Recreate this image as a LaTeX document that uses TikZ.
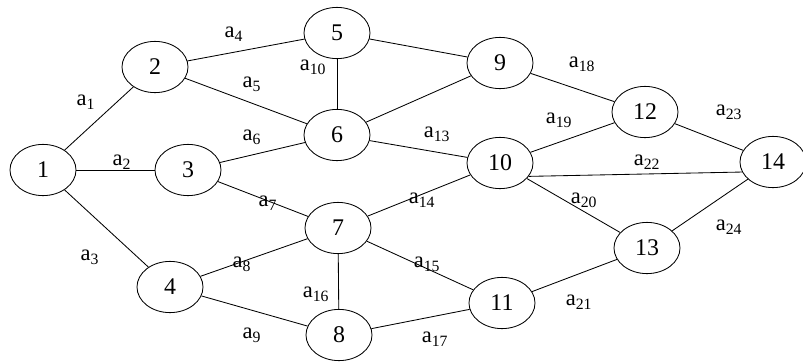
\documentclass[tikz,border=0pt]{standalone}
\usepackage{fontspec}
\setmainfont{Liberation Serif}
\usetikzlibrary{shapes.geometric, positioning}

\begin{document}
\begin{tikzpicture}[x=0.025cm, y=-0.025cm,
    vert/.style={ellipse, draw, line width=0.6pt, minimum width=1.65cm, minimum height=1.28cm, inner sep=0pt, font=\fontsize{17}{19}\selectfont},
    lbl/.style={inner sep=1pt, font=\fontsize{16}{18}\selectfont},
    link/.style={draw, line width=0.6pt}]

    \useasboundingbox (0,0) rectangle (803,363);

    \node[vert] (n1) at (43,170) {1};
    \node[vert] (n2) at (155,67) {2};
    \node[vert] (n3) at (188,170) {3};
    \node[vert] (n4) at (170,287) {4};
    \node[vert] (n5) at (337,33) {5};
    \node[vert] (n6) at (337,135) {6};
    \node[vert] (n7) at (338,228) {7};
    \node[vert] (n8) at (339,335) {8};
    \node[vert] (n9) at (500,63) {9};
    \node[vert] (n10) at (500,163) {10};
    \node[vert] (n11) at (502,303) {11};
    \node[vert] (n12) at (645,112) {12};
    \node[vert] (n13) at (647,248) {13};
    \node[vert] (n14) at (773,162) {14};

    \draw[link] (n1) -- (n2);
    \draw[link] (n1) -- (n3);
    \draw[link] (n1) -- (n4);
    \draw[link] (n2) -- (n5);
    \draw[link] (n2) -- (n6);
    \draw[link] (n3) -- (n6);
    \draw[link] (n3) -- (n7);
    \draw[link] (n4) -- (n7);
    \draw[link] (n4) -- (n8);
    \draw[link] (n5) -- (n6);
    \draw[link] (n5) -- (n9);
    \draw[link] (n6) -- (n9);
    \draw[link] (n6) -- (n10);
    \draw[link] (n7) -- (n10);
    \draw[link] (n7) -- (n11);
    \draw[link] (n7) -- (n8);
    \draw[link] (n8) -- (n11);
    \draw[link] (n9) -- (n12);
    \draw[link] (n10) -- (n12);
    \draw[link] (n10) -- (n13);
    \draw[link] (n11) -- (n13);
    \draw[link] (n10.-25) -- (n14.198);
    \draw[link] (n12) -- (n14);
    \draw[link] (n13) -- (n14);

    % arc labels
    \node[lbl] (a1) at (86,102) {a\textsubscript{1}};
    \node[lbl] (a2) at (122,162) {a\textsubscript{2}};
    \node[lbl] (a3) at (90,257) {a\textsubscript{3}};
    \node[lbl] (a4) at (234,34) {a\textsubscript{4}};
    \node[lbl] (a5) at (252,84) {a\textsubscript{5}};
    \node[lbl] (a6) at (252,137) {a\textsubscript{6}};
    \node[lbl] (a7) at (268,203) {a\textsubscript{7}};
    \node[lbl] (a8) at (242,264) {a\textsubscript{8}};
    \node[lbl] (a9) at (252,335) {a\textsubscript{9}};
    \node[lbl] (a10) at (313,67) {a\textsubscript{10}};
    \node[lbl] (a13) at (437,134) {a\textsubscript{13}};
    \node[lbl] (a14) at (422,200) {a\textsubscript{14}};
    \node[lbl] (a15) at (427,264) {a\textsubscript{15}};
    \node[lbl] (a16) at (316,294) {a\textsubscript{16}};
    \node[lbl] (a17) at (435,339) {a\textsubscript{17}};
    \node[lbl] (a18) at (582,64) {a\textsubscript{18}};
    \node[lbl] (a19) at (559,120) {a\textsubscript{19}};
    \node[lbl] (a20) at (584,200) {a\textsubscript{20}};
    \node[lbl] (a21) at (579,302) {a\textsubscript{21}};
    \node[lbl] (a22) at (647,162) {a\textsubscript{22}};
    \node[lbl] (a23) at (729,112) {a\textsubscript{23}};
    \node[lbl] (a24) at (729,227) {a\textsubscript{24}};
\end{tikzpicture}
\end{document}
